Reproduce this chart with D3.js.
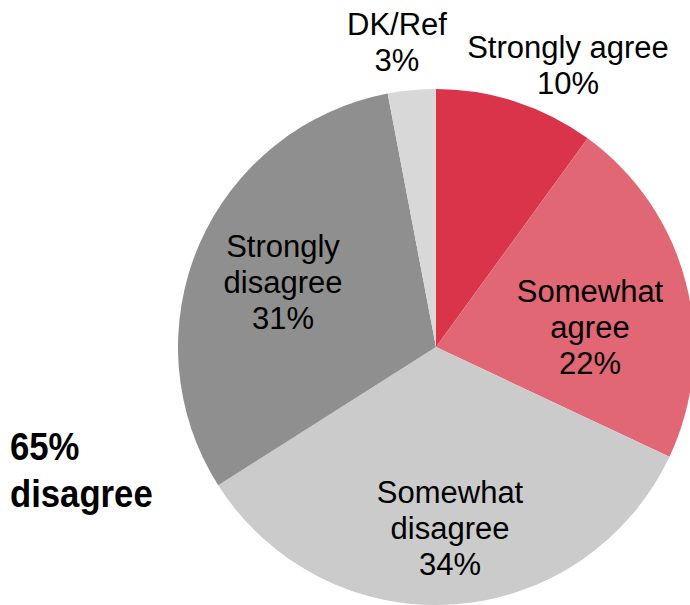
<!DOCTYPE html>
<html>
<head>
<meta charset="utf-8">
<script src="https://cdn.jsdelivr.net/npm/d3@7"></script>
<style>
  body { margin: 0; background: #fff; }
  text { font-family: "Liberation Sans", Arial, Helvetica, sans-serif; fill: #000; }
  .total { font-weight: bold; }
</style>
</head>
<body>
<svg id="chart"></svg>
<script>
// Chart data
const categories = ["Strongly agree", "Somewhat agree", "Somewhat disagree", "Strongly disagree", "DK/Ref"];
const values = [10, 22, 34, 31, 3];
const labelLines = [
  ["Strongly agree", "10%"],
  ["Somewhat", "agree", "22%"],
  ["Somewhat", "disagree", "34%"],
  ["Strongly", "disagree", "31%"],
  ["DK/Ref", "3%"]
];
const totalLines = ["65%", "disagree"];

const width = 690;
const height = 605;
const colors = ["#d9344a", "#e26775", "#cbcbcb", "#8f8f8f", "#d8d8d8"];
// label anchor (x, first baseline) for each slice
const labelPos = [[568, 58], [590, 302], [450, 503], [283, 257], [397, 35]];

const svg = d3.select("#chart")
  .attr("width", width)
  .attr("height", height);

const cx = 436, cy = 347, radius = 258;

const pie = d3.pie().sort(null).value(d => d);
const arc = d3.arc().innerRadius(0).outerRadius(radius);

const g = svg.append("g").attr("transform", `translate(${cx},${cy})`);

g.selectAll("path")
  .data(pie(values))
  .enter()
  .append("path")
  .attr("d", arc)
  .attr("fill", (d, i) => colors[i]);

// slice labels
categories.forEach((c, i) => {
  const t = svg.append("text")
    .attr("text-anchor", "middle")
    .attr("font-size", 31);
  labelLines[i].forEach((line, j) => {
    t.append("tspan")
      .attr("x", labelPos[i][0])
      .attr("y", labelPos[i][1] + j * 36)
      .text(line);
  });
});

// total label (condensed bold)
const sx = 0.89;
const tot = svg.append("text")
  .attr("class", "total")
  .attr("font-size", 39)
  .attr("transform", `scale(${sx},1)`);
totalLines.forEach((line, j) => {
  tot.append("tspan")
    .attr("x", 10 / sx)
    .attr("y", 460 + j * 47)
    .text(line);
});
</script>
</body>
</html>
